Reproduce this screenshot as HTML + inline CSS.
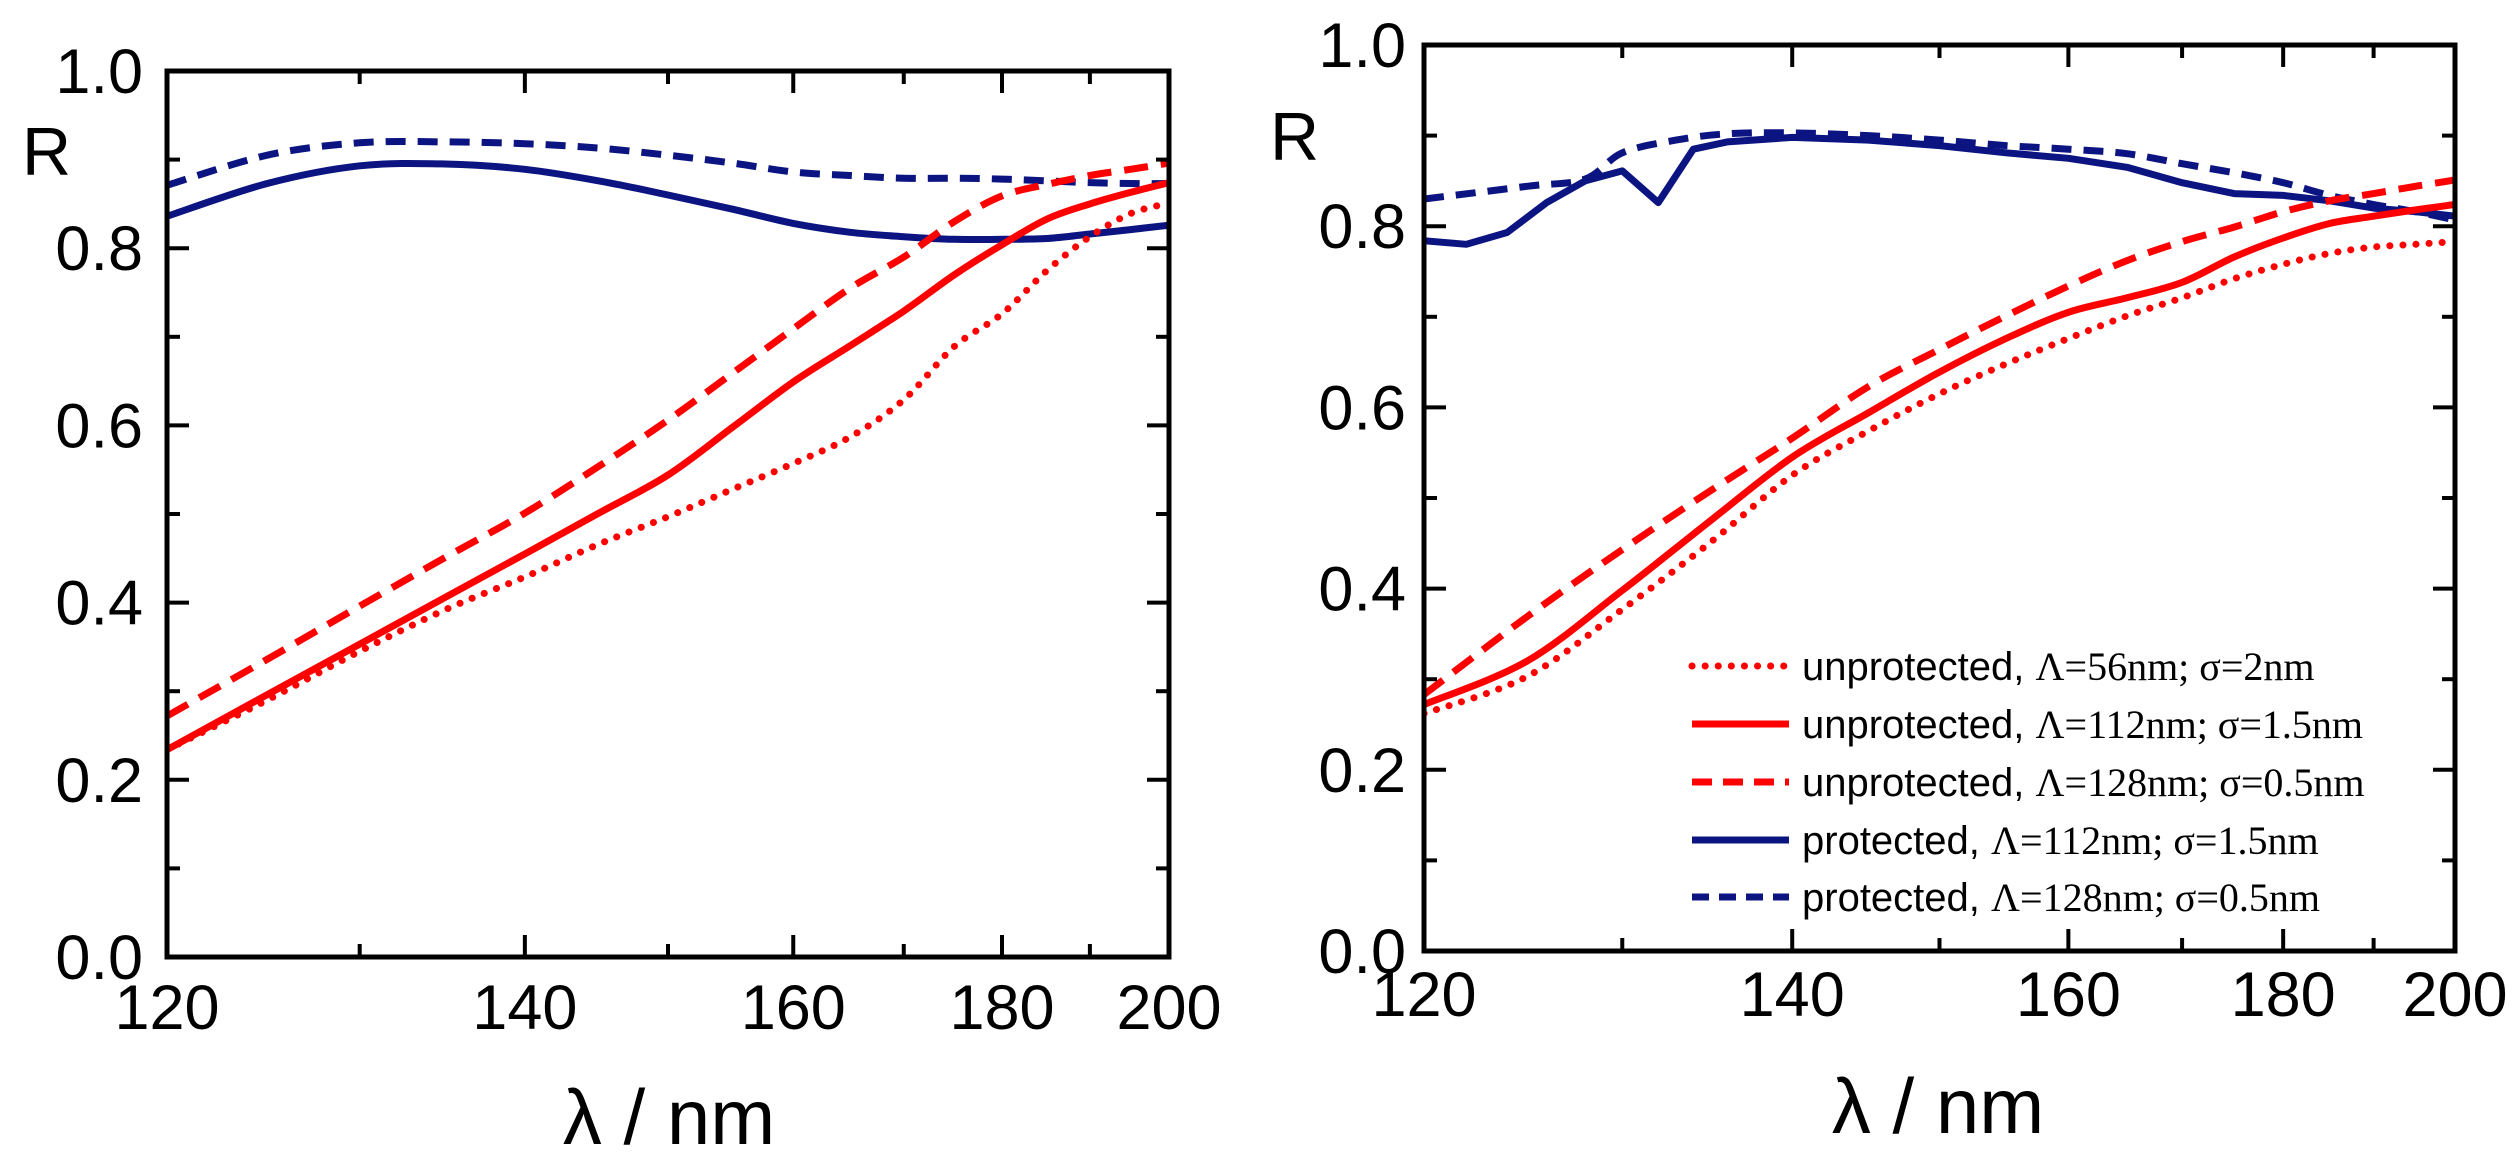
<!DOCTYPE html>
<html><head><meta charset="utf-8"><style>
html,body{margin:0;padding:0;background:#fff;}
svg{display:block;}
text{font-family:"Liberation Sans",sans-serif;fill:#000;}
</style></head><body>
<svg id="chart" width="2514" height="1164" viewBox="0 0 2514 1164" xmlns="http://www.w3.org/2000/svg"></svg>
<script>
// ---- data (left panel) ----
const lamGrid = [120,125,130,135,140,145,150,155,160,165,170,175,180,185,190,195,200];
const leftProtDash  = [0.871,0.905,0.919,0.920,0.918,0.913,0.905,0.896,0.886,0.882,0.879,0.879,0.878,0.876,0.874,0.873,0.873];
const leftProtSolid = [0.836,0.873,0.893,0.895,0.889,0.876,0.860,0.844,0.828,0.818,0.813,0.810,0.810,0.811,0.816,0.821,0.826];
const leftUnDash    = [0.272,0.336,0.396,0.451,0.501,0.554,0.606,0.659,0.709,0.755,0.790,0.830,0.859,0.872,0.882,0.889,0.896];
const leftUnSolid   = [0.234,0.296,0.353,0.406,0.455,0.501,0.544,0.598,0.649,0.690,0.729,0.770,0.804,0.833,0.850,0.863,0.874];
const leftUnDot     = [0.234,0.290,0.345,0.392,0.429,0.466,0.497,0.528,0.557,0.587,0.629,0.689,0.726,0.775,0.813,0.839,0.851];
// ---- data (right panel) ----
const rightProtSolidLam = [120,122,124,126,128,130,132,134,136,140,145,150,155,160,165,170,175,180,185,190,195,200];
const rightProtSolid    = [0.784,0.780,0.793,0.826,0.850,0.861,0.826,0.885,0.893,0.898,0.895,0.889,0.881,0.875,0.865,0.848,0.836,0.834,0.828,0.820,0.816,0.811];
const rightProtDashLam  = [120,125,128,130,133,136,140,145,150,155,160,165,170,175,180,185,190,195,200];
const rightProtDash     = [0.830,0.844,0.852,0.881,0.895,0.902,0.903,0.900,0.895,0.889,0.885,0.880,0.869,0.859,0.848,0.834,0.824,0.816,0.807];
const rightUnDash  = [0.283,0.369,0.443,0.508,0.566,0.623,0.664,0.701,0.734,0.762,0.783,0.799,0.816,0.828,0.836,0.844,0.851];
const rightUnSolid = [0.272,0.320,0.398,0.475,0.545,0.594,0.639,0.676,0.705,0.721,0.738,0.766,0.787,0.803,0.811,0.818,0.824];
const rightUnDot   = [0.262,0.303,0.377,0.451,0.525,0.574,0.615,0.648,0.676,0.701,0.721,0.742,0.758,0.770,0.777,0.780,0.783];
const xTicks = [120,140,160,180,200];
const xMinor = [130,150,170,190];
const yTicks = [0,0.2,0.4,0.6,0.8,1.0];
const yMinor = [0.1,0.3,0.5,0.7,0.9];
const legendLabels = [
 ["unprotected, ","Λ=56nm; σ=2nm"],
 ["unprotected, ","Λ=112nm; σ=1.5nm"],
 ["unprotected, ","Λ=128nm; σ=0.5nm"],
 ["protected, ","Λ=112nm; σ=1.5nm"],
 ["protected, ","Λ=128nm; σ=0.5nm"]];

const NS="http://www.w3.org/2000/svg";
const svg=document.getElementById('chart');
function mk(tag,attrs,parent){const e=document.createElementNS(NS,tag);for(const k in attrs)e.setAttribute(k,attrs[k]);(parent||svg).appendChild(e);return e;}
const RED="#ff0000", BLUE="#0b1480";
const styles={
 dot:{stroke:RED,dash:"0.1 13",cap:"round"},
 solid:{stroke:RED,dash:"none",cap:"butt"},
 dash:{stroke:RED,dash:"24 13",cap:"butt"},
 bsolid:{stroke:BLUE,dash:"none",cap:"butt"},
 bdash:{stroke:BLUE,dash:"20 12",cap:"butt"}};

function panel(name,x0,x1,y0,y1,labX,labBase,rX,rBase,tX,tBase,series){
  const g=mk('g',{});
  
  
  const xs=l=>x0+(1/120-1/l)/(1/120-1/200)*(x1-x0);
  const ys=v=>y1-v*(y1-y0);
  const clip=mk('clipPath',{id:name+'-clip'},g);
  mk('rect',{x:x0,y:y0,width:x1-x0,height:y1-y0},clip);
  const sg=mk('g',{'clip-path':'url(#'+name+'-clip)'},g);
  series.forEach(s=>{
    const pts=s.lam.map((l,i)=>[xs(l),ys(s.val[i])]);
    let d="M"+pts[0][0].toFixed(1)+","+pts[0][1].toFixed(1);
    for(let i=0;i<pts.length-1;i++){
      const p0=pts[Math.max(0,i-1)],p1=pts[i],p2=pts[i+1],p3=pts[Math.min(pts.length-1,i+2)];
      const t=s.sharp?0:1/6;
      d+=" C"+(p1[0]+(p2[0]-p0[0])*t).toFixed(1)+","+(p1[1]+(p2[1]-p0[1])*t).toFixed(1)+" "+(p2[0]-(p3[0]-p1[0])*t).toFixed(1)+","+(p2[1]-(p3[1]-p1[1])*t).toFixed(1)+" "+p2[0].toFixed(1)+","+p2[1].toFixed(1);
    }
    const st=styles[s.style];
    const p=mk('path',{d:d,fill:'none',stroke:st.stroke,'stroke-width':7,'stroke-dasharray':st.dash,'stroke-linecap':st.cap,'stroke-linejoin':'round'},sg);
    
    
  });
  const fr=mk('rect',{x:x0,y:y0,width:x1-x0,height:y1-y0,fill:'none',stroke:'#000','stroke-width':5},g);
  
  
  const tk=(x,y,dx,dy)=>mk('line',{x1:x,y1:y,x2:x+dx,y2:y+dy,stroke:'#000','stroke-width':4},g);
  xTicks.forEach(l=>{const x=xs(l);tk(x,y1,0,-22);tk(x,y0,0,22);
    const t=mk('text',{x:x,y:tBase,'font-size':63,'text-anchor':'middle'},g);t.textContent=l;
    
    });
  xMinor.forEach(l=>{const x=xs(l);tk(x,y1,0,-13);tk(x,y0,0,13);});
  yTicks.forEach(v=>{const y=ys(v);tk(x0,y,22,0);tk(x1,y,-22,0);
    const t=mk('text',{x:labX,y:y+22,'font-size':63,'text-anchor':'end'},g);t.textContent=v.toFixed(1);
    
    });
  yMinor.forEach(v=>{const y=ys(v);tk(x0,y,13,0);tk(x1,y,-13,0);});
  const r=mk('text',{x:rX,y:rBase,'font-size':68},g);r.textContent='R';
  
  
  const xt=mk('text',{x:tX,y:labBase,'font-size':78,'text-anchor':'middle'},g);xt.textContent='λ / nm';
  
  
  return g;
}

panel('left-panel',167,1169,71,957,143,1144,22,175,669,1029,[
 {name:'protected-128-dashed',lam:lamGrid,val:leftProtDash,style:'bdash'},
 {name:'protected-112-solid',lam:lamGrid,val:leftProtSolid,style:'bsolid'},
 {name:'unprotected-128-dashed',lam:lamGrid,val:leftUnDash,style:'dash'},
 {name:'unprotected-112-solid',lam:lamGrid,val:leftUnSolid,style:'solid'},
 {name:'unprotected-56-dotted',lam:lamGrid,val:leftUnDot,style:'dot'}]);
panel('right-panel',1424,2455,45,951,1406,1133,1270,160,1938,1016,[
 {name:'protected-128-dashed',lam:rightProtDashLam,val:rightProtDash,style:'bdash'},
 {name:'protected-112-solid',lam:rightProtSolidLam,val:rightProtSolid,style:'bsolid',sharp:true},
 {name:'unprotected-128-dashed',lam:lamGrid,val:rightUnDash,style:'dash'},
 {name:'unprotected-112-solid',lam:lamGrid,val:rightUnSolid,style:'solid'},
 {name:'unprotected-56-dotted',lam:lamGrid,val:rightUnDot,style:'dot'}]);

const lg=mk('g',{});


const legStyles=['dot','solid','dash','bsolid','bdash'];
const legY=[666,724,782,840,897];
legendLabels.forEach((lab,i)=>{
  const st=styles[legStyles[i]];
  const e=mk('g',{},lg);
  
  
  mk('line',{x1:1692,y1:legY[i],x2:1789,y2:legY[i],stroke:st.stroke,'stroke-width':7,'stroke-dasharray':st.dash==='24 13'?'20 11':(st.dash==='20 12'?'17 10':st.dash),'stroke-linecap':st.cap},e);
  const t=mk('text',{x:1802,y:legY[i]+14,'font-size':40},e);
  const a=mk('tspan',{},t);a.textContent=lab[0];
  const b=mk('tspan',{'font-family':'Liberation Serif, serif'},t);b.textContent=lab[1];
});
</script>
</body></html>
